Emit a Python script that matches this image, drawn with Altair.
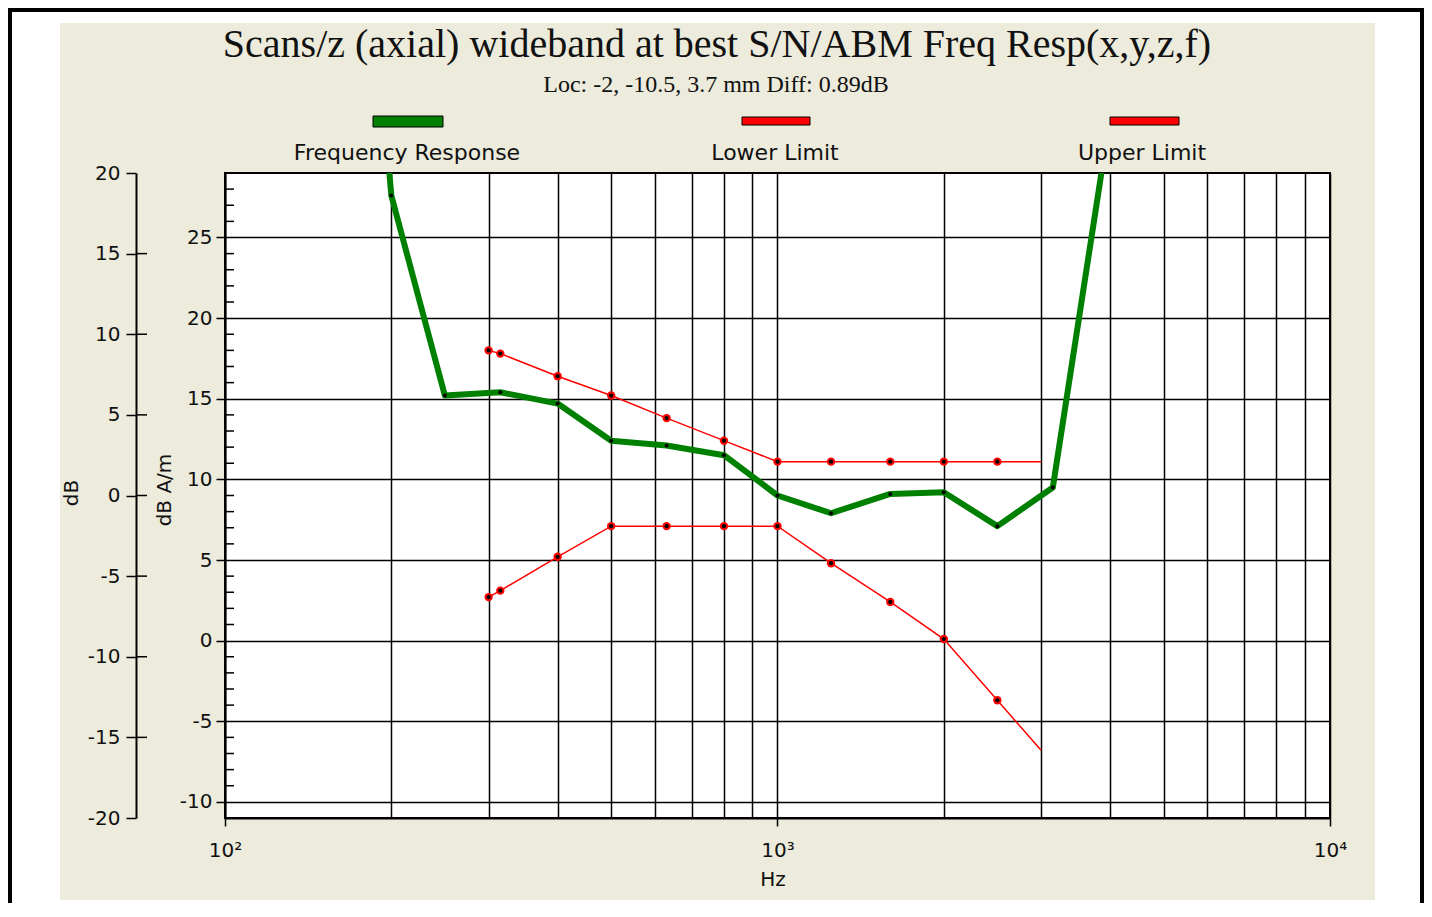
import altair as alt
import pandas as pd

TITLE = "Scans/z (axial) wideband at best S/N/ABM Freq Resp(x,y,z,f)"
SUBTITLE = "Loc: -2, -10.5, 3.7 mm Diff: 0.89dB"
SERIES = ["Frequency Response", "Lower Limit", "Upper Limit"]
SERIES_COLORS = ["#008000", "#ff0000", "#ff0000"]
X_TITLE = "Hz"
Y_INNER_TITLE = "dB A/m"
Y_OUTER_TITLE = "dB"

# Frequency response (dB A/m)
resp_hz = [160, 200, 250, 315, 400, 500, 630, 800, 1000, 1250, 1600, 2000, 2500, 3150, 4000]
resp_dba = [66.0, 27.6, 15.2, 15.4, 14.7, 12.4, 12.1, 11.5, 9.0, 7.9, 9.1, 9.2, 7.1, 9.5, 32.5]

# Limit curves (dB A/m)
limit_hz = [300, 315, 400, 500, 630, 800, 1000, 1250, 1600, 2000, 2500, 3000]
limit_top_dba = [18.0, 17.8, 16.4, 15.2, 13.8, 12.4, 11.1, 11.1, 11.1, 11.1, 11.1, 11.1]
limit_bottom_dba = [2.7, 3.1, 5.2, 7.1, 7.1, 7.1, 7.1, 4.8, 2.4, 0.1, -3.7, -6.8]
limit_marked = [True, True, True, True, True, True, True, True, True, True, True, False]

# Axes
x_grid_hz = [100, 200, 300, 400, 500, 600, 700, 800, 900,
             1000, 2000, 3000, 4000, 5000, 6000, 7000, 8000, 9000, 10000]
x_label_hz = [100, 1000, 10000]
x_label_text = ["10²", "10³", "10⁴"]
y_inner_major = [-10, -5, 0, 5, 10, 15, 20, 25]
y_inner_minor = [-9, -8, -7, -6, -4, -3, -2, -1, 1, 2, 3, 4, 6, 7, 8, 9,
                 11, 12, 13, 14, 16, 17, 18, 19, 21, 22, 23, 24, 26, 27, 28]
y_outer_major = [-20, -15, -10, -5, 0, 5, 10, 15, 20]
y_outer_inner_stubs = [-15, -10, -5, 0, 5, 10, 15]

SANS = "DejaVu Sans"
SERIF = "Liberation Serif"
BEIGE = "#ecebdc"

W, H = 1105, 645

label_expr = " : ".join(
    f"datum.value == {v} ? '{t}'" for v, t in zip(x_label_hz, x_label_text)
) + " : ''"
tick_test = "indexof([" + ",".join(str(v) for v in x_label_hz) + "], datum.value) >= 0"
num_expr = "datum.value < 0 ? '-' + abs(datum.value) : '' + datum.value"

X_AXIS = alt.Axis(values=x_grid_hz, grid=True, gridColor="black", gridWidth=1.5, gridOpacity=1,
                  tickSize=8, tickColor="black", tickWidth=1.5,
                  tickOpacity={"condition": {"test": tick_test, "value": 1}, "value": 0},
                  labelExpr=label_expr, labelPadding=14, labelFont=SANS, labelFontSize=20,
                  labelColor="#111", labelOverlap=False, labelFlush=False, labelBound=False,
                  domain=True, domainColor="black", domainWidth=2, title=None)
X_SCALE = alt.Scale(type="log", domain=[100, 10000], nice=False, zero=False)

Y_IN_AXIS = alt.Axis(values=y_inner_major, orient="left", grid=True, gridColor="black",
                     gridWidth=1.5, gridOpacity=1, tickSize=9, tickColor="black", tickWidth=1.5,
                     labelPadding=4, labelFont=SANS, labelFontSize=20, labelColor="#111",
                     labelExpr=num_expr,
                     domain=True, domainColor="black", domainWidth=2, title=None,
                     labelOverlap=False)
Y_IN_SCALE = alt.Scale(domain=[-11, 29], nice=False, zero=False)

Y_OUT_AXIS = alt.Axis(values=y_outer_major, orient="left", offset=89, grid=False, tickSize=10,
                      tickColor="black", tickWidth=1.5, labelPadding=6, labelFont=SANS,
                      labelFontSize=20, labelColor="#111", labelExpr=num_expr,
                      domain=True, domainColor="black",
                      domainWidth=2, title=None, labelOverlap=False)
Y_OUT_SCALE = alt.Scale(domain=[-20, 20], nice=False, zero=False)


def X():
    return alt.X("hz:Q", scale=X_SCALE, axis=X_AXIS)


def Y():
    return alt.Y("dba:Q", scale=Y_IN_SCALE, axis=Y_IN_AXIS)


one = pd.DataFrame({"k": [0]})


def rect(x, x2, y, y2, color, stroke=None):
    kw = {"color": color}
    if stroke:
        kw.update(stroke=stroke, strokeWidth=1)
    return alt.Chart(one).mark_rect(**kw).encode(
        x=alt.value(x), x2=alt.value(x2), y=alt.value(y), y2=alt.value(y2))


def text(s, x, y, font, size, angle=0):
    kw = dict(font=font, fontSize=size, align="center", baseline="middle", color="#111")
    if angle:
        kw["angle"] = angle
    return alt.Chart(one).mark_text(**kw).encode(
        x=alt.value(x), y=alt.value(y), text=alt.value(s))


# frame decorations around the beige panel
deco = [
    rect(-217, 1199, -165, -150, "white"),
    rect(-217, -165, -165, 730, "white"),
    rect(1150, 1199, -165, 730, "white"),
    rect(-217, 1199, 727, 730, "white"),
    rect(-217, 1199, -165, -161, "black"),
    rect(-217, -213, -165, 730, "black"),
    rect(1195, 1199, -165, 730, "black"),
]

# data frames
resp_df = pd.DataFrame({"hz": resp_hz, "dba": resp_dba})
lim_df = pd.concat([
    pd.DataFrame({"hz": limit_hz, "dba": limit_top_dba, "curve": "top", "m": limit_marked}),
    pd.DataFrame({"hz": limit_hz, "dba": limit_bottom_dba, "curve": "bottom", "m": limit_marked}),
])
lim_marked_df = lim_df[lim_df["m"]]
minor_df = pd.DataFrame({"dba": y_inner_minor})
stub_df = pd.DataFrame({"db": y_outer_inner_stubs})
outer_df = pd.DataFrame({"db": y_outer_major})

minor_ticks = alt.Chart(minor_df).mark_rule(color="black", strokeWidth=1.5).encode(
    y=Y(), x=alt.value(0), x2=alt.value(9))

lim_lines = alt.Chart(lim_df).mark_line(color="#ff0000", strokeWidth=1.5, clip=True).encode(
    x=X(), y=Y(), detail="curve:N", order="hz:Q")
lim_pts = alt.Chart(lim_marked_df).mark_point(filled=True, color="#ff0000", size=70,
                                               opacity=1, clip=True).encode(x=X(), y=Y())
lim_dots = alt.Chart(lim_marked_df).mark_point(filled=True, color="black", size=18,
                                                opacity=1, clip=True).encode(x=X(), y=Y())

resp_line = alt.Chart(resp_df).mark_line(color="#008000", strokeWidth=6, clip=True,
                                         strokeJoin="round").encode(x=X(), y=Y(), order="hz:Q")
resp_dots = alt.Chart(resp_df).mark_point(filled=True, color="black", size=16, opacity=1,
                                          clip=True).encode(x=X(), y=Y())

inner = alt.layer(minor_ticks, lim_lines, lim_pts, lim_dots, resp_line, resp_dots)

outer = alt.layer(
    alt.Chart(outer_df).mark_rule(opacity=0).encode(
        y=alt.Y("db:Q", scale=Y_OUT_SCALE, axis=Y_OUT_AXIS), x=alt.value(-89), x2=alt.value(-89)),
    alt.Chart(stub_df).mark_rule(color="black", strokeWidth=1.5).encode(
        y=alt.Y("db:Q", scale=Y_OUT_SCALE, axis=Y_OUT_AXIS), x=alt.value(-89), x2=alt.value(-78)),
)

texts = [
    text(TITLE, 492, -128, SERIF, 40),
    text(SUBTITLE, 491, -88, SERIF, 24),
    text(SERIES[0], 182, -20, SANS, 22),
    text(SERIES[1], 550, -20, SANS, 22),
    text(SERIES[2], 917, -20, SANS, 22),
    text(X_TITLE, 548, 707, SANS, 20),
    text(Y_INNER_TITLE, -60, 317, SANS, 20, angle=270),
    text(Y_OUTER_TITLE, -153, 320, SANS, 20, angle=270),
]

legend = [
    rect(148, 218, -57, -46, SERIES_COLORS[0], stroke="black"),
    rect(517, 585, -56, -48, SERIES_COLORS[1], stroke="black"),
    rect(885, 954, -56, -48, SERIES_COLORS[2], stroke="black"),
]

chart = alt.layer(*deco, inner, outer, *legend, *texts).resolve_scale(
    y="independent"
).properties(
    width=W, height=H,
    padding={"left": 217, "top": 165, "right": 94, "bottom": 85},
    autosize=alt.AutoSizeParams(type="none"),
    background=BEIGE,
).configure_view(fill="white", stroke="black", strokeWidth=2)

chart.save("out.html", embed_options={"renderer": "svg", "actions": False})
